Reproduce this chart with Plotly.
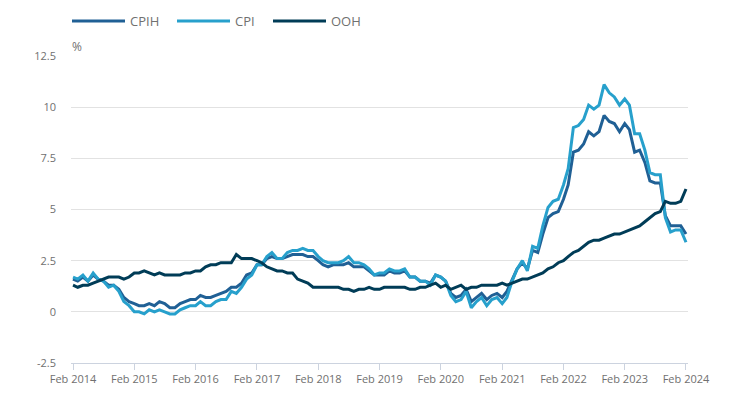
import pandas as pd
import plotly.graph_objects as go

# Monthly dates Feb 2014 - Feb 2024
months = pd.date_range("2014-02-01", "2024-02-01", freq="MS")

cpih = [
    1.6, 1.5, 1.7, 1.5, 1.8, 1.6, 1.5, 1.3, 1.3, 1.1, 0.7,          # 2014 Feb-Dec
    0.5, 0.4, 0.3, 0.3, 0.4, 0.3, 0.5, 0.4, 0.2, 0.2, 0.4, 0.5,     # 2015
    0.6, 0.6, 0.8, 0.7, 0.7, 0.8, 0.9, 1.0, 1.2, 1.2, 1.4, 1.8,     # 2016
    1.9, 2.3, 2.3, 2.6, 2.7, 2.6, 2.6, 2.7, 2.8, 2.8, 2.8, 2.7,     # 2017
    2.7, 2.5, 2.3, 2.2, 2.3, 2.3, 2.3, 2.4, 2.2, 2.2, 2.2, 2.0,     # 2018
    1.8, 1.8, 1.8, 2.0, 1.9, 1.9, 2.0, 1.7, 1.7, 1.5, 1.5, 1.4,     # 2019
    1.8, 1.7, 1.5, 0.9, 0.7, 0.8, 1.1, 0.5, 0.7, 0.9, 0.6, 0.8,     # 2020
    0.9, 0.7, 1.0, 1.6, 2.1, 2.4, 2.1, 3.0, 2.9, 3.8, 4.6, 4.8,     # 2021
    4.9, 5.5, 6.2, 7.8, 7.9, 8.2, 8.8, 8.6, 8.8, 9.6, 9.3, 9.2,     # 2022
    8.8, 9.2, 8.9, 7.8, 7.9, 7.3, 6.4, 6.3, 6.3, 4.7, 4.2, 4.2,     # 2023
    4.2, 3.8,                                                       # 2024
]

cpi = [
    1.7, 1.6, 1.8, 1.5, 1.9, 1.6, 1.5, 1.2, 1.3, 1.0, 0.5,
    0.3, 0.0, 0.0, -0.1, 0.1, 0.0, 0.1, 0.0, -0.1, -0.1, 0.1, 0.2,
    0.3, 0.3, 0.5, 0.3, 0.3, 0.5, 0.6, 0.6, 1.0, 0.9, 1.2, 1.6,
    1.8, 2.3, 2.3, 2.7, 2.9, 2.6, 2.6, 2.9, 3.0, 3.0, 3.1, 3.0,
    3.0, 2.7, 2.5, 2.4, 2.4, 2.4, 2.5, 2.7, 2.4, 2.4, 2.3, 2.1,
    1.8, 1.9, 1.9, 2.1, 2.0, 2.0, 2.1, 1.7, 1.7, 1.5, 1.5, 1.3,
    1.8, 1.7, 1.5, 0.8, 0.5, 0.6, 1.0, 0.2, 0.5, 0.7, 0.3, 0.6,
    0.7, 0.4, 0.7, 1.5, 2.1, 2.5, 2.0, 3.2, 3.1, 4.2, 5.1, 5.4,
    5.5, 6.2, 7.0, 9.0, 9.1, 9.4, 10.1, 9.9, 10.1, 11.1, 10.7, 10.5,
    10.1, 10.4, 10.1, 8.7, 8.7, 7.9, 6.8, 6.7, 6.7, 4.6, 3.9, 4.0,
    4.0, 3.4,
]

ooh = [
    1.3, 1.2, 1.3, 1.3, 1.4, 1.5, 1.6, 1.7, 1.7, 1.7, 1.6,
    1.7, 1.9, 1.9, 2.0, 1.9, 1.8, 1.9, 1.8, 1.8, 1.8, 1.8, 1.9,
    1.9, 2.0, 2.0, 2.2, 2.3, 2.3, 2.4, 2.4, 2.4, 2.8, 2.6, 2.6,
    2.6, 2.5, 2.4, 2.2, 2.1, 2.0, 2.0, 1.9, 1.9, 1.6, 1.5, 1.4,
    1.2, 1.2, 1.2, 1.2, 1.2, 1.2, 1.1, 1.1, 1.0, 1.1, 1.1, 1.2,
    1.1, 1.1, 1.2, 1.2, 1.2, 1.2, 1.2, 1.1, 1.1, 1.2, 1.2, 1.3,
    1.4, 1.2, 1.3, 1.1, 1.2, 1.3, 1.1, 1.2, 1.2, 1.3, 1.3, 1.3,
    1.3, 1.4, 1.3, 1.4, 1.5, 1.6, 1.6, 1.7, 1.8, 1.9, 2.1, 2.2,
    2.4, 2.5, 2.7, 2.9, 3.0, 3.2, 3.4, 3.5, 3.5, 3.6, 3.7, 3.8,
    3.8, 3.9, 4.0, 4.1, 4.2, 4.4, 4.6, 4.8, 4.9, 5.4, 5.3, 5.3,
    5.4, 6.0,
]

series_names = ["CPIH", "CPI", "OOH"]
series_colors = ["#206095", "#27A0CC", "#003C57"]
series_values = [cpih, cpi, ooh]

tick_dates = pd.date_range("2014-02-01", "2024-02-01", freq="12MS")
tick_labels = [d.strftime("%b %Y") for d in tick_dates]
y_ticks = [-2.5, 0, 2.5, 5, 7.5, 10, 12.5]
y_labels = ["-2.5", "0", "2.5", "5", "7.5", "10", "12.5"]

FONT = "Open Sans, Noto Sans, sans-serif"
GREY = "#707070"

fig = go.Figure()
for name, col, vals in zip(series_names, series_colors, series_values):
    fig.add_trace(go.Scatter(
        x=months, y=vals, mode="lines", name=name,
        line=dict(color=col, width=3), showlegend=False,
    ))

# The page body adds an 8px offset; size the figure so it lands on the window.
OFF = 8
W, H = 745 - OFF, 399 - OFF
# plot area in window pixels: x 71..688, y 56..363
L, R, T, B = 71 - OFF, 745 - 688, 56 - OFF, 399 - 363
pw, ph = W - L - R, H - T - B

def px_x(x):
    return (x - OFF - L) / pw

def px_y(y):
    return (H - B - (y - OFF)) / ph

legend_starts = [72, 177, 273]
shapes = []
annotations = []
for name, col, x0 in zip(series_names, series_colors, legend_starts):
    shapes.append(dict(type="line", xref="paper", yref="paper",
                       x0=px_x(x0), x1=px_x(x0 + 53), y0=px_y(21), y1=px_y(21),
                       line=dict(color=col, width=3)))
    annotations.append(dict(text=name, xref="paper", yref="paper",
                            x=px_x(x0 + 56), y=px_y(21), xanchor="left", yanchor="middle",
                            showarrow=False, font=dict(family=FONT, size=13, color=GREY)))

annotations.append(dict(text="%", xref="paper", yref="paper",
                        x=px_x(70), y=px_y(46), xanchor="left", yanchor="middle",
                        showarrow=False, font=dict(family=FONT, size=12, color=GREY)))

fig.update_layout(
    width=W, height=H,
    margin=dict(l=L, r=R, t=T, b=B),
    paper_bgcolor="white", plot_bgcolor="white",
    font=dict(family=FONT, size=11, color=GREY),
    shapes=shapes, annotations=annotations,
    xaxis=dict(
        range=["2014-01-20", "2024-02-13"],
        tickvals=tick_dates, ticktext=tick_labels,
        showgrid=False, zeroline=False,
        showline=True, linecolor="#ccd3df", linewidth=1,
        ticks="outside", ticklen=6, tickcolor="#ccd3df",
        tickfont=dict(family=FONT, size=11, color=GREY),
    ),
    yaxis=dict(
        range=[-2.5, 12.5],
        tickvals=y_ticks, ticktext=y_labels,
        showgrid=True, gridcolor="#e2e2e2", gridwidth=1,
        zeroline=False, showline=False,
        ticks="", ticklabelstandoff=14,
        tickfont=dict(family=FONT, size=11, color=GREY),
    ),
)

fig.write_html("out.html")
